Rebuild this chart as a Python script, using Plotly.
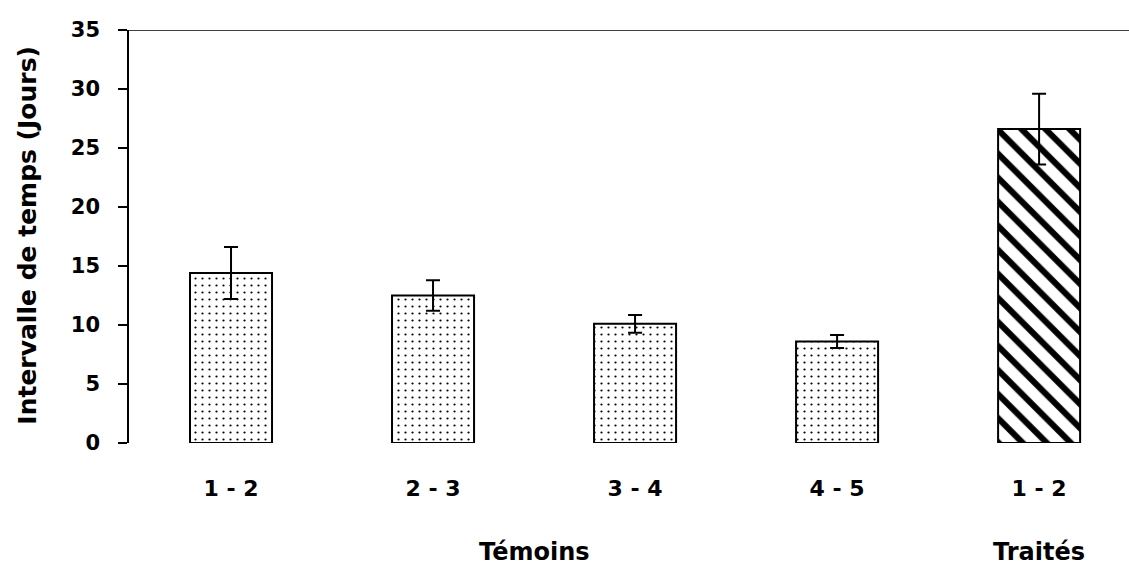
import plotly.graph_objects as go

categories = ["1 - 2", "2 - 3", "3 - 4", "4 - 5", "1 - 2"]
groups = ["Témoins", "Témoins", "Témoins", "Témoins", "Traités"]
values = [14.4, 12.5, 10.1, 8.6, 26.6]
errors = [2.2, 1.3, 0.75, 0.55, 3.0]
y_ticks = [0, 5, 10, 15, 20, 25, 30, 35]

FONT = "DejaVu Sans"
xpos = list(range(len(categories)))
shapes = ["."] * 4 + ["\\"]
sizes = [7] * 4 + [17]
solid = [0.08] * 4 + [0.36]

fig = go.Figure()
fig.add_trace(go.Bar(
    x=xpos, y=values, width=0.406,
    marker=dict(
        color="white",
        line=dict(color="black", width=2),
        pattern=dict(shape=shapes, size=sizes, solidity=solid,
                     fgcolor="black", bgcolor="white", fgopacity=1,
                     fillmode="replace"),
    ),
    error_y=dict(type="data", array=errors, visible=True, color="black",
                 thickness=2, width=7),
    showlegend=False,
))

fig.update_layout(
    width=1129, height=565,
    margin=dict(l=129, r=0, t=30, b=122),
    paper_bgcolor="white", plot_bgcolor="white",
    font=dict(family=FONT, color="black"),
    xaxis=dict(range=[-0.505, 4.445], tickvals=xpos, ticktext=categories,
               showline=False, showgrid=False, zeroline=False, ticks="",
               tickfont=dict(family=FONT, size=22, weight="bold"),
               ticklabelstandoff=30),
    yaxis=dict(range=[0, 35], tickvals=y_ticks, showline=True, linecolor="black",
               linewidth=1.5, ticks="outside", ticklen=9, tickcolor="black",
               tickwidth=1.5, showgrid=False, zeroline=False,
               tickfont=dict(family=FONT, size=21, weight="bold"),
               ticklabelstandoff=14),
    shapes=[dict(type="line", xref="paper", yref="y", x0=-0.009, x1=1,
                 y0=35, y1=35, line=dict(color="black", width=1.5))],
    annotations=[
        dict(text="Intervalle de temps (Jours)", xref="paper", yref="paper",
             x=-0.101, y=0.502, xanchor="center", yanchor="middle",
             textangle=-90, showarrow=False,
             font=dict(family=FONT, size=25, weight="bold")),
        dict(text=groups[0], xref="x", yref="paper", x=1.5, y=-0.264,
             xanchor="center", yanchor="middle", showarrow=False,
             font=dict(family=FONT, size=24, weight="bold")),
        dict(text=groups[4], xref="x", yref="paper", x=4, y=-0.264,
             xanchor="center", yanchor="middle", showarrow=False,
             font=dict(family=FONT, size=24, weight="bold")),
    ],
)

fig.write_html("out.html")
